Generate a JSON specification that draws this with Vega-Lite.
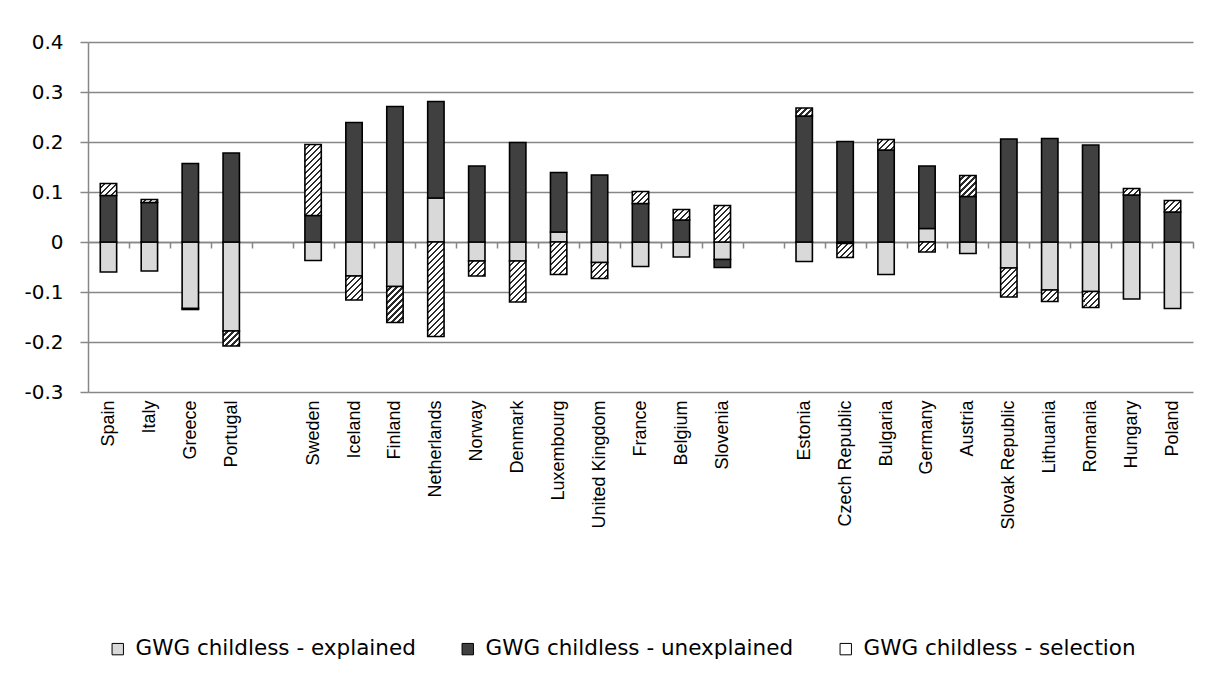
{
  "$schema": "https://vega.github.io/schema/vega-lite/v6.json",
  "width": 1105,
  "height": 350,
  "autosize": "none",
  "padding": {"left": 88, "top": 42, "right": 18, "bottom": 290},
  "background": "white",
  "params": [
    {"name": "hatch", "value": [
      {"offset": 0, "color": "#ffffff"}, {"offset": 0.031, "color": "#ffffff"}, {"offset": 0.031, "color": "#2b2b2b"}, {"offset": 0.05, "color": "#2b2b2b"},
      {"offset": 0.05, "color": "#ffffff"}, {"offset": 0.081, "color": "#ffffff"}, {"offset": 0.081, "color": "#2b2b2b"}, {"offset": 0.1, "color": "#2b2b2b"},
      {"offset": 0.1, "color": "#ffffff"}, {"offset": 0.131, "color": "#ffffff"}, {"offset": 0.131, "color": "#2b2b2b"}, {"offset": 0.15, "color": "#2b2b2b"},
      {"offset": 0.15, "color": "#ffffff"}, {"offset": 0.181, "color": "#ffffff"}, {"offset": 0.181, "color": "#2b2b2b"}, {"offset": 0.2, "color": "#2b2b2b"},
      {"offset": 0.2, "color": "#ffffff"}, {"offset": 0.231, "color": "#ffffff"}, {"offset": 0.231, "color": "#2b2b2b"}, {"offset": 0.25, "color": "#2b2b2b"},
      {"offset": 0.25, "color": "#ffffff"}, {"offset": 0.281, "color": "#ffffff"}, {"offset": 0.281, "color": "#2b2b2b"}, {"offset": 0.3, "color": "#2b2b2b"},
      {"offset": 0.3, "color": "#ffffff"}, {"offset": 0.331, "color": "#ffffff"}, {"offset": 0.331, "color": "#2b2b2b"}, {"offset": 0.35, "color": "#2b2b2b"},
      {"offset": 0.35, "color": "#ffffff"}, {"offset": 0.381, "color": "#ffffff"}, {"offset": 0.381, "color": "#2b2b2b"}, {"offset": 0.4, "color": "#2b2b2b"},
      {"offset": 0.4, "color": "#ffffff"}, {"offset": 0.431, "color": "#ffffff"}, {"offset": 0.431, "color": "#2b2b2b"}, {"offset": 0.45, "color": "#2b2b2b"},
      {"offset": 0.45, "color": "#ffffff"}, {"offset": 0.481, "color": "#ffffff"}, {"offset": 0.481, "color": "#2b2b2b"}, {"offset": 0.5, "color": "#2b2b2b"},
      {"offset": 0.5, "color": "#ffffff"}, {"offset": 0.531, "color": "#ffffff"}, {"offset": 0.531, "color": "#2b2b2b"}, {"offset": 0.55, "color": "#2b2b2b"},
      {"offset": 0.55, "color": "#ffffff"}, {"offset": 0.581, "color": "#ffffff"}, {"offset": 0.581, "color": "#2b2b2b"}, {"offset": 0.6, "color": "#2b2b2b"},
      {"offset": 0.6, "color": "#ffffff"}, {"offset": 0.631, "color": "#ffffff"}, {"offset": 0.631, "color": "#2b2b2b"}, {"offset": 0.65, "color": "#2b2b2b"},
      {"offset": 0.65, "color": "#ffffff"}, {"offset": 0.681, "color": "#ffffff"}, {"offset": 0.681, "color": "#2b2b2b"}, {"offset": 0.7, "color": "#2b2b2b"},
      {"offset": 0.7, "color": "#ffffff"}, {"offset": 0.731, "color": "#ffffff"}, {"offset": 0.731, "color": "#2b2b2b"}, {"offset": 0.75, "color": "#2b2b2b"},
      {"offset": 0.75, "color": "#ffffff"}, {"offset": 0.781, "color": "#ffffff"}, {"offset": 0.781, "color": "#2b2b2b"}, {"offset": 0.8, "color": "#2b2b2b"},
      {"offset": 0.8, "color": "#ffffff"}, {"offset": 0.831, "color": "#ffffff"}, {"offset": 0.831, "color": "#2b2b2b"}, {"offset": 0.85, "color": "#2b2b2b"},
      {"offset": 0.85, "color": "#ffffff"}, {"offset": 0.881, "color": "#ffffff"}, {"offset": 0.881, "color": "#2b2b2b"}, {"offset": 0.9, "color": "#2b2b2b"},
      {"offset": 0.9, "color": "#ffffff"}, {"offset": 0.931, "color": "#ffffff"}, {"offset": 0.931, "color": "#2b2b2b"}, {"offset": 0.95, "color": "#2b2b2b"},
      {"offset": 0.95, "color": "#ffffff"}, {"offset": 0.981, "color": "#ffffff"}, {"offset": 0.981, "color": "#2b2b2b"}, {"offset": 1, "color": "#2b2b2b"}
    ]}
  ],
  "data": {"values": [
    {"c": "Spain", "s": "GWG childless - explained", "v": -0.060, "o": 1},
    {"c": "Spain", "s": "GWG childless - unexplained", "v": 0.093, "o": 2},
    {"c": "Spain", "s": "GWG childless - selection", "v": 0.024, "o": 3},
    {"c": "Italy", "s": "GWG childless - explained", "v": -0.058, "o": 1},
    {"c": "Italy", "s": "GWG childless - unexplained", "v": 0.079, "o": 2},
    {"c": "Italy", "s": "GWG childless - selection", "v": 0.006, "o": 3},
    {"c": "Greece", "s": "GWG childless - explained", "v": -0.133, "o": 1},
    {"c": "Greece", "s": "GWG childless - unexplained", "v": 0.157, "o": 2},
    {"c": "Greece", "s": "GWG childless - selection", "v": -0.002, "o": 3},
    {"c": "Portugal", "s": "GWG childless - explained", "v": -0.178, "o": 1},
    {"c": "Portugal", "s": "GWG childless - unexplained", "v": 0.178, "o": 2},
    {"c": "Portugal", "s": "GWG childless - selection", "v": -0.030, "o": 3},
    {"c": "Sweden", "s": "GWG childless - explained", "v": -0.037, "o": 1},
    {"c": "Sweden", "s": "GWG childless - unexplained", "v": 0.053, "o": 2},
    {"c": "Sweden", "s": "GWG childless - selection", "v": 0.142, "o": 3},
    {"c": "Iceland", "s": "GWG childless - explained", "v": -0.068, "o": 1},
    {"c": "Iceland", "s": "GWG childless - unexplained", "v": 0.239, "o": 2},
    {"c": "Iceland", "s": "GWG childless - selection", "v": -0.048, "o": 3},
    {"c": "Finland", "s": "GWG childless - explained", "v": -0.089, "o": 1},
    {"c": "Finland", "s": "GWG childless - unexplained", "v": 0.271, "o": 2},
    {"c": "Finland", "s": "GWG childless - selection", "v": -0.072, "o": 3},
    {"c": "Netherlands", "s": "GWG childless - explained", "v": 0.088, "o": 1},
    {"c": "Netherlands", "s": "GWG childless - unexplained", "v": 0.193, "o": 2},
    {"c": "Netherlands", "s": "GWG childless - selection", "v": -0.189, "o": 3},
    {"c": "Norway", "s": "GWG childless - explained", "v": -0.038, "o": 1},
    {"c": "Norway", "s": "GWG childless - unexplained", "v": 0.152, "o": 2},
    {"c": "Norway", "s": "GWG childless - selection", "v": -0.030, "o": 3},
    {"c": "Denmark", "s": "GWG childless - explained", "v": -0.038, "o": 1},
    {"c": "Denmark", "s": "GWG childless - unexplained", "v": 0.199, "o": 2},
    {"c": "Denmark", "s": "GWG childless - selection", "v": -0.082, "o": 3},
    {"c": "Luxembourg", "s": "GWG childless - explained", "v": 0.020, "o": 1},
    {"c": "Luxembourg", "s": "GWG childless - unexplained", "v": 0.119, "o": 2},
    {"c": "Luxembourg", "s": "GWG childless - selection", "v": -0.065, "o": 3},
    {"c": "United Kingdom", "s": "GWG childless - explained", "v": -0.041, "o": 1},
    {"c": "United Kingdom", "s": "GWG childless - unexplained", "v": 0.134, "o": 2},
    {"c": "United Kingdom", "s": "GWG childless - selection", "v": -0.032, "o": 3},
    {"c": "France", "s": "GWG childless - explained", "v": -0.049, "o": 1},
    {"c": "France", "s": "GWG childless - unexplained", "v": 0.077, "o": 2},
    {"c": "France", "s": "GWG childless - selection", "v": 0.024, "o": 3},
    {"c": "Belgium", "s": "GWG childless - explained", "v": -0.030, "o": 1},
    {"c": "Belgium", "s": "GWG childless - unexplained", "v": 0.044, "o": 2},
    {"c": "Belgium", "s": "GWG childless - selection", "v": 0.021, "o": 3},
    {"c": "Slovenia", "s": "GWG childless - explained", "v": -0.035, "o": 1},
    {"c": "Slovenia", "s": "GWG childless - unexplained", "v": -0.016, "o": 2},
    {"c": "Slovenia", "s": "GWG childless - selection", "v": 0.073, "o": 3},
    {"c": "Estonia", "s": "GWG childless - explained", "v": -0.039, "o": 1},
    {"c": "Estonia", "s": "GWG childless - unexplained", "v": 0.252, "o": 2},
    {"c": "Estonia", "s": "GWG childless - selection", "v": 0.016, "o": 3},
    {"c": "Czech Republic", "s": "GWG childless - explained", "v": -0.003, "o": 1},
    {"c": "Czech Republic", "s": "GWG childless - unexplained", "v": 0.201, "o": 2},
    {"c": "Czech Republic", "s": "GWG childless - selection", "v": -0.028, "o": 3},
    {"c": "Bulgaria", "s": "GWG childless - explained", "v": -0.065, "o": 1},
    {"c": "Bulgaria", "s": "GWG childless - unexplained", "v": 0.184, "o": 2},
    {"c": "Bulgaria", "s": "GWG childless - selection", "v": 0.021, "o": 3},
    {"c": "Germany", "s": "GWG childless - explained", "v": 0.027, "o": 1},
    {"c": "Germany", "s": "GWG childless - unexplained", "v": 0.125, "o": 2},
    {"c": "Germany", "s": "GWG childless - selection", "v": -0.020, "o": 3},
    {"c": "Austria", "s": "GWG childless - explained", "v": -0.023, "o": 1},
    {"c": "Austria", "s": "GWG childless - unexplained", "v": 0.091, "o": 2},
    {"c": "Austria", "s": "GWG childless - selection", "v": 0.042, "o": 3},
    {"c": "Slovak Republic", "s": "GWG childless - explained", "v": -0.052, "o": 1},
    {"c": "Slovak Republic", "s": "GWG childless - unexplained", "v": 0.206, "o": 2},
    {"c": "Slovak Republic", "s": "GWG childless - selection", "v": -0.058, "o": 3},
    {"c": "Lithuania", "s": "GWG childless - explained", "v": -0.096, "o": 1},
    {"c": "Lithuania", "s": "GWG childless - unexplained", "v": 0.207, "o": 2},
    {"c": "Lithuania", "s": "GWG childless - selection", "v": -0.023, "o": 3},
    {"c": "Romania", "s": "GWG childless - explained", "v": -0.099, "o": 1},
    {"c": "Romania", "s": "GWG childless - unexplained", "v": 0.194, "o": 2},
    {"c": "Romania", "s": "GWG childless - selection", "v": -0.032, "o": 3},
    {"c": "Hungary", "s": "GWG childless - explained", "v": -0.114, "o": 1},
    {"c": "Hungary", "s": "GWG childless - unexplained", "v": 0.094, "o": 2},
    {"c": "Hungary", "s": "GWG childless - selection", "v": 0.013, "o": 3},
    {"c": "Poland", "s": "GWG childless - explained", "v": -0.133, "o": 1},
    {"c": "Poland", "s": "GWG childless - unexplained", "v": 0.060, "o": 2},
    {"c": "Poland", "s": "GWG childless - selection", "v": 0.023, "o": 3}
  ]},
  "transform": [
    {"stack": "v", "groupby": ["c"], "sort": [{"field": "o", "order": "ascending"}], "offset": "zero", "as": ["y0", "y1"]}
  ],
  "mark": {"type": "bar", "stroke": "#000000", "strokeWidth": 1.6},
  "encoding": {
    "x": {
      "field": "c",
      "type": "nominal",
      "sort": null,
      "scale": {
        "domain": ["Spain", "Italy", "Greece", "Portugal", "gap1", "Sweden", "Iceland", "Finland", "Netherlands", "Norway", "Denmark", "Luxembourg", "United Kingdom", "France", "Belgium", "Slovenia", "gap2", "Estonia", "Czech Republic", "Bulgaria", "Germany", "Austria", "Slovak Republic", "Lithuania", "Romania", "Hungary", "Poland"],
        "paddingInner": 0.6,
        "paddingOuter": 0.3
      },
      "axis": {
        "title": null,
        "orient": "bottom",
        "offset": -150,
        "domainColor": "#878787",
        "domainWidth": 1.5,
        "tickColor": "#878787",
        "tickWidth": 1.5,
        "tickSize": 6,
        "tickOffset": 20.46,
        "labelOffset": -20.46,
        "labelAngle": -90,
        "labelAlign": "right",
        "labelBaseline": "middle",
        "labelPadding": 152,
        "labelFont": "Liberation Sans",
        "labelFontSize": 18,
        "labelColor": "#000000",
        "labelExpr": "indexof(datum.value, 'gap') == 0 ? '' : datum.value",
        "grid": false
      }
    },
    "y": {
      "field": "y1",
      "type": "quantitative",
      "scale": {"domain": [-0.3, 0.4], "nice": false, "zero": false},
      "axis": {
        "title": null,
        "values": [-0.3, -0.2, -0.1, 0, 0.1, 0.2, 0.3, 0.4],
        "labelExpr": "'' + datum.value",
        "grid": true,
        "gridColor": "#878787",
        "gridWidth": 1.5,
        "domainColor": "#878787",
        "domainWidth": 1.5,
        "tickColor": "#878787",
        "tickWidth": 1.5,
        "tickSize": 8,
        "labelPadding": 17,
        "labelFont": "DejaVu Sans",
        "labelFontSize": 20,
        "labelColor": "#000000"
      }
    },
    "y2": {"field": "y0"},
    "fill": {
      "condition": {
        "test": "datum.s === 'GWG childless - selection'",
        "value": {"expr": "{gradient: 'linear', x1: 0, y1: 0, x2: bandwidth('x') * 120 / (pow(bandwidth('x'), 2) + pow(scale('y', datum.y1) - scale('y', datum.y0), 2)), y2: abs(scale('y', datum.y1) - scale('y', datum.y0)) * 120 / (pow(bandwidth('x'), 2) + pow(scale('y', datum.y1) - scale('y', datum.y0), 2)), stops: hatch}"}
      },
      "field": "s",
      "type": "nominal",
      "scale": {
        "domain": ["GWG childless - explained", "GWG childless - unexplained", "GWG childless - selection"],
        "range": ["#d9d9d9", "#404040", "#ffffff"]
      },
      "legend": {
        "title": null,
        "orient": "none",
        "legendX": 19,
        "legendY": 596,
        "direction": "horizontal",
        "symbolType": "square",
        "symbolSize": 130,
        "symbolStrokeColor": "#000000",
        "symbolStrokeWidth": 1,
        "symbolOpacity": 1,
        "labelFont": "DejaVu Sans",
        "labelFontSize": 21.5,
        "labelColor": "#000000",
        "labelOffset": 7,
        "columnPadding": 41,
        "labelLimit": 400,
        "encode": {
          "symbols": {
            "fill": {"value": {"expr": "datum.value === 'GWG childless - selection' ? {gradient: 'linear', x1: 0, y1: 0, x2: 5.26, y2: 5.26, stops: hatch} : (datum.value === 'GWG childless - explained' ? '#d9d9d9' : '#404040')"}}
          }
        }
      }
    }
  },
  "config": {
    "view": {"stroke": null},
    "bar": {"fillOpacity": 1}
  }
}
